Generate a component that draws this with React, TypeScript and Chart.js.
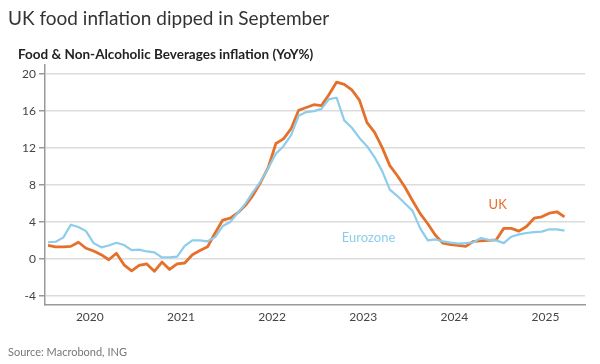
import { useEffect, useRef } from 'react';
import { Chart, registerables } from 'chart.js';

Chart.register(...registerables);

// Monthly data, Jan 2020 (index 0) to Sep 2025 (index 68)
const yearLabels = ['2020', '2021', '2022', '2023', '2024', '2025'];
const yTickValues = [-4, 0, 4, 8, 12, 16, 20];

const ukValues = [
  1.45, 1.3, 1.3, 1.35, 1.8, 1.15, 0.85, 0.45, -0.1, 0.6, -0.65, -1.3,
  -0.7, -0.55, -1.35, -0.35, -1.15, -0.55, -0.45, 0.45, 0.9, 1.3, 2.8, 4.2,
  4.4, 5.0, 5.8, 6.9, 8.3, 9.9, 12.5, 13.0, 14.1, 16.1, 16.4, 16.7,
  16.6, 17.8, 19.15, 18.9, 18.3, 17.2, 14.75, 13.7, 12.05, 10.1, 9.0, 7.75,
  6.3, 4.9, 3.8, 2.55, 1.7, 1.55, 1.45, 1.35, 1.9, 1.95, 2.0, 2.05,
  3.3, 3.3, 3.0, 3.5, 4.4, 4.55, 4.95, 5.1, 4.55,
];

const ezValues = [
  1.8, 1.85, 2.3, 3.7, 3.45, 3.0, 1.7, 1.25, 1.45, 1.75, 1.5, 0.95,
  1.0, 0.8, 0.7, 0.15, 0.15, 0.25, 1.4, 2.0, 2.0, 1.9, 2.35, 3.55,
  4.0, 5.0, 6.0, 7.25, 8.4, 9.85, 11.4, 12.2, 13.4, 15.5, 15.9, 16.0,
  16.25, 17.3, 17.45, 15.0, 14.2, 13.1, 12.2, 11.0, 9.5, 7.5, 6.8, 6.0,
  5.2, 3.3, 2.0, 2.1, 1.9, 1.75, 1.65, 1.7, 1.8, 2.25, 2.05, 2.0,
  1.7, 2.4, 2.65, 2.8, 2.9, 2.95, 3.2, 3.2, 3.05,
];

const seriesNames = ['UK', 'Eurozone'];
const seriesColors = ['#E5702A', '#8DCDEB'];
// label anchor: [month index, value]
const labelAnchors = [
  [59.2, 5.9],
  [42.2, 2.25],
];

const FONT = 'Lato, "Open Sans", sans-serif';

const labelPlugin = {
  id: 'seriesLabels',
  afterDatasetsDraw(chart: any) {
    const { ctx, scales } = chart;
    const x = scales.x;
    const y = scales.y;
    ctx.save();
    ctx.font = `13px ${FONT}`;
    ctx.textAlign = 'center';
    ctx.textBaseline = 'middle';
    seriesNames.forEach((name, i) => {
      ctx.fillStyle = seriesColors[i];
      ctx.fillText(name, x.getPixelForValue(labelAnchors[i][0]), y.getPixelForValue(labelAnchors[i][1]));
    });
    ctx.restore();
  },
};

export default function App() {
  const ref = useRef<HTMLCanvasElement | null>(null);

  useEffect(() => {
    if (!ref.current) return;
    const toPoints = (vals: number[]) => vals.map((v, i) => ({ x: i, y: v }));
    const chart = new Chart(ref.current, {
      type: 'line',
      data: {
        datasets: [
          {
            label: seriesNames[1],
            data: toPoints(ezValues),
            borderColor: seriesColors[1],
            borderWidth: 2.2,
            pointRadius: 0,
            tension: 0,
            borderJoinStyle: 'round',
          },
          {
            label: seriesNames[0],
            data: toPoints(ukValues),
            borderColor: seriesColors[0],
            borderWidth: 2.8,
            pointRadius: 0,
            tension: 0,
            borderJoinStyle: 'round',
          },
        ],
      },
      options: {
        animation: false,
        responsive: false,
        devicePixelRatio: 1,
        layout: { padding: { top: 65, right: 15, left: 0, bottom: 0 } },
        plugins: { legend: { display: false }, tooltip: { enabled: false } },
        scales: {
          x: {
            type: 'linear',
            min: -0.4,
            max: 70.7,
            afterBuildTicks: (scale: any) => {
              scale.ticks = yearLabels.map((_, i) => ({ value: 5.5 + 12 * i }));
            },
            afterFit: (scale: any) => {
              scale.height = 59;
            },
            grid: { display: false, drawTicks: false },
            border: { display: true, color: '#9a9a9a', width: 1.5 },
            ticks: {
              autoSkip: false,
              maxRotation: 0,
              padding: 5,
              color: '#444',
              font: { family: FONT, size: 12 },
              callback: (v: any) => {
                const idx = Math.round((Number(v) - 5.5) / 12);
                return yearLabels[idx] ?? '';
              },
            },
          },
          y: {
            min: -5,
            max: 21,
            afterBuildTicks: (scale: any) => {
              scale.ticks = yTickValues.map((v) => ({ value: v }));
            },
            afterFit: (scale: any) => {
              scale.width = 45;
            },
            grid: {
              color: '#dcdcdc',
              lineWidth: 1.5,
              drawTicks: true,
              tickLength: 6,
              tickColor: '#9a9a9a',
            },
            border: { display: true, color: '#9a9a9a', width: 1.5 },
            ticks: {
              padding: 3,
              color: '#444',
              font: { family: FONT, size: 12 },
            },
          },
        },
      },
      plugins: [labelPlugin],
    } as any);
    return () => chart.destroy();
  }, []);

  return (
    <div style={{ position: 'absolute', left: 0, top: 0, width: 600, height: 364, background: '#fff', overflow: 'hidden' }}>
      <canvas ref={ref} width={600} height={364} style={{ position: 'absolute', left: 0, top: 0 }} />
      <div style={{ position: 'absolute', left: 8, top: 6, fontFamily: FONT, fontSize: 19, color: '#333', whiteSpace: 'nowrap' }}>
        UK food inflation dipped in September
      </div>
      <div style={{ position: 'absolute', left: 18, top: 46, fontFamily: FONT, fontSize: 13.5, fontWeight: 700, color: '#222', whiteSpace: 'nowrap' }}>
        Food &amp; Non-Alcoholic Beverages inflation (YoY%)
      </div>
      <div style={{ position: 'absolute', left: 8, top: 345, fontFamily: FONT, fontSize: 11, color: '#777', whiteSpace: 'nowrap' }}>
        Source: Macrobond, ING
      </div>
    </div>
  );
}
